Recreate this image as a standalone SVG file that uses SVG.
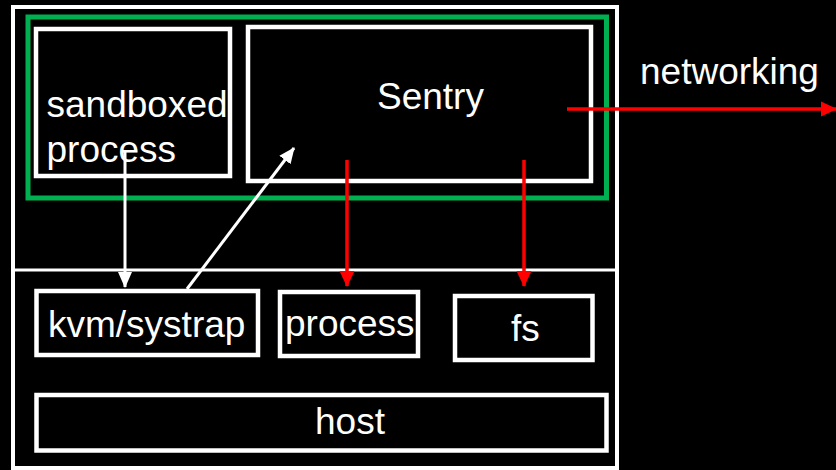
<svg xmlns="http://www.w3.org/2000/svg" width="836" height="470" viewBox="0 0 836 470">
  <style>
    .box { fill: none; stroke: #ffffff; stroke-width: 4.5; }
    .frame { fill: none; stroke: #ffffff; stroke-width: 4; }
    .sandbox { fill: none; stroke: #00b050; stroke-width: 5; }
    .label { font-family: "Liberation Sans", Arial, sans-serif; font-size: 37px; fill: #ffffff; }
    .white-line { stroke: #ffffff; stroke-width: 3; fill: none; }
    .red-line { stroke: #ff0000; stroke-width: 3.5; fill: none; }
  </style>
  <defs>
    <marker id="head-white" markerUnits="userSpaceOnUse" markerWidth="16" markerHeight="16" viewBox="0 0 16 16" refX="15" refY="8" orient="auto">
      <path d="M0,1 L16,8 L0,15 Z" fill="#ffffff"/>
    </marker>
    <marker id="head-red" markerUnits="userSpaceOnUse" markerWidth="16" markerHeight="16" viewBox="0 0 16 16" refX="15" refY="8" orient="auto">
      <path d="M0,0.5 L16,8 L0,15.5 Z" fill="#ff0000"/>
    </marker>
  </defs>

  <rect width="836" height="470" fill="#000000"/>

  <!-- machine frame and user/kernel divider -->
  <g id="machine">
    <rect class="frame" x="13" y="7" width="604" height="461"/>
    <line x1="13" y1="270" x2="617" y2="270" stroke="#ffffff" stroke-width="3"/>
  </g>

  <!-- gVisor sandbox boundary -->
  <g id="sandbox">
    <rect class="sandbox" x="28" y="17" width="578.5" height="181"/>
  </g>

  <g id="sandboxed-process">
    <rect class="box" x="36" y="29" width="194" height="147"/>
    <text class="label" x="46.5" y="117">sandboxed</text>
    <text class="label" x="46.5" y="162">process</text>
  </g>

  <g id="sentry">
    <rect class="box" x="248" y="27" width="343" height="154"/>
    <text class="label" x="377" y="109">Sentry</text>
  </g>

  <g id="kvm-systrap">
    <rect class="box" x="36.5" y="291" width="221.5" height="64"/>
    <text class="label" x="48" y="337">kvm/systrap</text>
  </g>

  <g id="host-process">
    <rect class="box" x="280" y="292" width="138" height="64"/>
    <text class="label" x="285" y="336">process</text>
  </g>

  <g id="host-fs">
    <rect class="box" x="455" y="296" width="137.5" height="64"/>
    <text class="label" x="511" y="341">fs</text>
  </g>

  <g id="host">
    <rect class="box" x="36.5" y="395" width="570" height="55.5"/>
    <text class="label" x="315" y="434">host</text>
  </g>

  <g id="networking">
    <text class="label" x="640" y="84">networking</text>
  </g>

  <!-- connectors -->
  <g id="connectors">
    <line class="white-line" x1="125" y1="150" x2="125" y2="287" marker-end="url(#head-white)"/>
    <line class="white-line" x1="187" y1="289" x2="294" y2="148" marker-end="url(#head-white)"/>
    <line class="red-line" x1="347" y1="160" x2="347" y2="286" marker-end="url(#head-red)"/>
    <line class="red-line" x1="524" y1="160" x2="524" y2="286" marker-end="url(#head-red)"/>
    <line class="red-line" x1="567" y1="109" x2="836" y2="109" marker-end="url(#head-red)"/>
  </g>
</svg>
